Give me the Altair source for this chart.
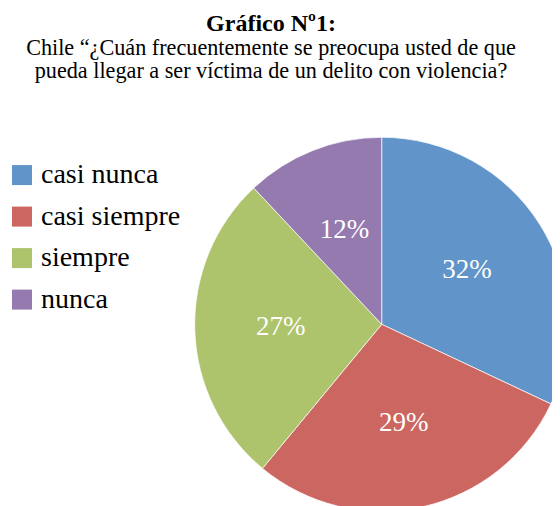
import altair as alt
import pandas as pd

categories = ["casi nunca", "casi siempre", "siempre", "nunca"]
values = [32, 29, 27, 12]
labels = ["32%", "29%", "27%", "12%"]
order_idx = [0, 1, 2, 3]
colors = ["#6194C8", "#CC6661", "#ADC36C", "#957AB0"]

title_text = "Gráfico Nº1:"
subtitle_lines = [
    "Chile “¿Cuán frecuentemente se preocupa usted de que",
    "pueda llegar a ser víctima de un delito con violencia?",
]

df = pd.DataFrame({"cat": categories, "val": values, "lab": labels, "idx": order_idx})

SERIF = "Liberation Serif"

base = alt.Chart(df).encode(
    theta=alt.Theta("val:Q", stack=True),
    order=alt.Order("idx:Q"),
)

arc = base.mark_arc(outerRadius=187, stroke="white", strokeWidth=0.7).encode(
    color=alt.Color(
        "cat:N",
        scale=alt.Scale(domain=categories, range=colors),
        legend=alt.Legend(
            title=None,
            orient="none",
            legendX=-203.4,
            legendY=18.5,
            symbolType="square",
            symbolSize=400,
            symbolStrokeWidth=0,
            labelFontSize=28,
            labelFont=SERIF,
            labelColor="black",
            rowPadding=13.5,
            labelOffset=5,
            labelLimit=400,
        ),
    )
)

text = base.mark_text(radius=101, fontSize=27, font=SERIF, color="white").encode(
    text="lab:N", detail="cat:N"
)

chart = (
    alt.layer(arc, text)
    .properties(
        width=340.6,
        height=363.4,
        autosize=alt.AutoSizeParams(type="none"),
        padding={"left": 203.4, "top": 134.6, "right": 0, "bottom": 0},
        title=alt.TitleParams(
            text=title_text,
            subtitle=subtitle_lines,
            font=SERIF,
            fontSize=24,
            fontWeight="bold",
            color="black",
            subtitleFont=SERIF,
            subtitleFontSize=22.2,
            subtitleColor="black",
            subtitleLineHeight=23,
            subtitlePadding=1,
            anchor="middle",
            dx=-110.7,
            offset=54,
        ),
    )
    .configure_view(stroke=None)
)

chart.save("out.html", embed_options={"renderer": "svg", "actions": False})
